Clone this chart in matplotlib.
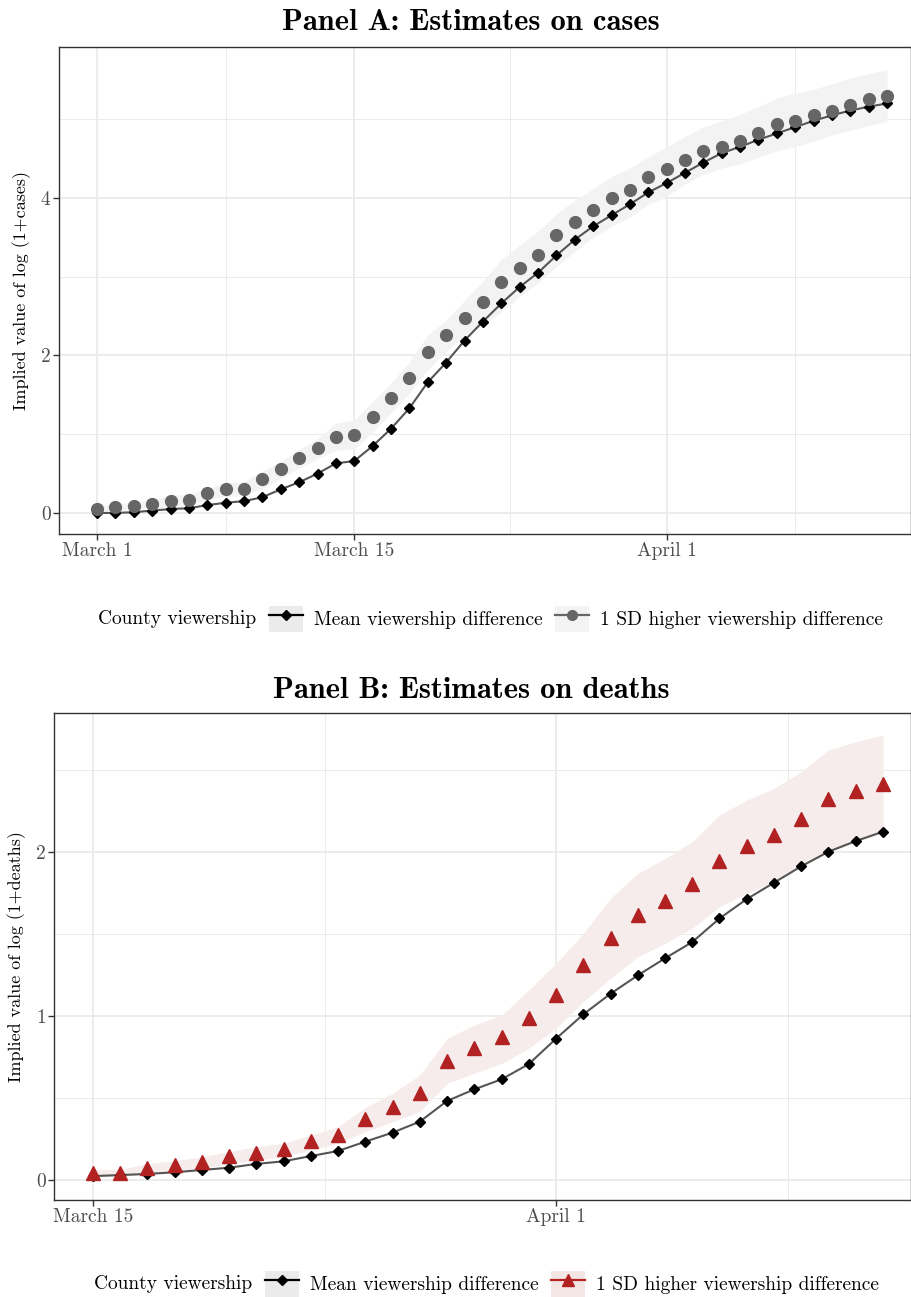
import numpy as np
import pandas as pd
import matplotlib
matplotlib.use("Agg")
import matplotlib.pyplot as plt
from matplotlib.lines import Line2D
from matplotlib.patches import Patch

plt.rcParams['font.family'] = ['cmr10', 'DejaVu Serif']
plt.rcParams['axes.formatter.use_mathtext'] = True

#### Panel A: cases, March 1 - April 12
dates_a = pd.date_range("2020-03-01", periods=44, freq="D")
mean_a = [0.00, 0.00, 0.01, 0.03, 0.05, 0.06, 0.10, 0.13, 0.15, 0.20,
          0.30, 0.39, 0.50, 0.63, 0.66, 0.85, 1.07, 1.33, 1.66, 1.91,
          2.19, 2.43, 2.66, 2.87, 3.05, 3.27, 3.47, 3.64, 3.78, 3.92,
          4.07, 4.19, 4.32, 4.45, 4.57, 4.65, 4.74, 4.82, 4.90, 4.98,
          5.05, 5.11, 5.16, 5.20]
sd_a = [0.05, 0.07, 0.09, 0.12, 0.15, 0.17, 0.25, 0.30, 0.31, 0.43,
        0.56, 0.70, 0.83, 0.97, 0.99, 1.22, 1.46, 1.72, 2.04, 2.26,
        2.48, 2.68, 2.93, 3.11, 3.28, 3.53, 3.70, 3.85, 4.00, 4.10,
        4.26, 4.37, 4.48, 4.60, 4.65, 4.72, 4.83, 4.94, 4.98, 5.05,
        5.11, 5.18, 5.26, 5.30]
sd_a_lo = [0.00, 0.02, 0.05, 0.07, 0.08, 0.10, 0.17, 0.21, 0.22, 0.31,
           0.44, 0.57, 0.69, 0.80, 0.81, 1.03, 1.27, 1.52, 1.82, 2.05,
           2.26, 2.38, 2.55, 2.75, 2.92, 3.13, 3.32, 3.50, 3.64, 3.76,
           3.92, 4.02, 4.18, 4.30, 4.38, 4.43, 4.52, 4.60, 4.65, 4.72,
           4.80, 4.86, 4.92, 4.97]
sd_a_hi = [0.09, 0.11, 0.14, 0.17, 0.22, 0.24, 0.31, 0.38, 0.40, 0.53,
           0.66, 0.80, 0.95, 1.14, 1.18, 1.41, 1.65, 1.92, 2.26, 2.45,
           2.70, 2.94, 3.22, 3.40, 3.58, 3.80, 3.97, 4.12, 4.27, 4.38,
           4.52, 4.65, 4.78, 4.90, 4.98, 5.06, 5.16, 5.27, 5.33, 5.38,
           5.45, 5.52, 5.58, 5.63]

#### Panel B: deaths, March 15 - April 13
dates_b = pd.date_range("2020-03-15", periods=30, freq="D")
mean_b = [0.024, 0.030, 0.037, 0.047, 0.061, 0.075, 0.098, 0.114, 0.146, 0.177,
          0.234, 0.289, 0.356, 0.482, 0.553, 0.614, 0.707, 0.862, 1.010, 1.136,
          1.248, 1.352, 1.451, 1.595, 1.713, 1.813, 1.913, 2.002, 2.067, 2.124]
sd_b = [0.041, 0.045, 0.075, 0.091, 0.108, 0.144, 0.167, 0.187, 0.236, 0.274,
        0.374, 0.443, 0.532, 0.728, 0.807, 0.870, 0.990, 1.130, 1.311, 1.478,
        1.616, 1.703, 1.803, 1.945, 2.037, 2.104, 2.199, 2.321, 2.374, 2.415]
sd_b_lo = [0.016, 0.020, 0.041, 0.051, 0.071, 0.098, 0.122, 0.142, 0.183, 0.224,
           0.295, 0.356, 0.417, 0.590, 0.650, 0.711, 0.803, 0.925, 1.087, 1.230,
           1.362, 1.443, 1.535, 1.667, 1.748, 1.819, 1.910, 2.000, 2.060, 2.120]
sd_b_hi = [0.065, 0.065, 0.100, 0.118, 0.142, 0.173, 0.203, 0.224, 0.274, 0.325,
           0.443, 0.528, 0.640, 0.864, 0.945, 1.006, 1.159, 1.321, 1.504, 1.718,
           1.870, 1.961, 2.063, 2.226, 2.317, 2.388, 2.490, 2.622, 2.673, 2.713]

legend_title = "County viewership"
labels = ["Mean viewership difference", "1 SD higher viewership difference"]

grey_pt = "#666666"
red_pt = "#B22222"
fs = 14

fig = plt.figure(figsize=(9.12, 12.97), dpi=100)


def style_axes(ax, major_x, major_lab, minor_x, major_y, minor_y):
    ax.set_xticks(major_x)
    ax.set_xticklabels(major_lab)
    ax.set_xticks(minor_x, minor=True)
    ax.set_yticks(major_y)
    ax.set_yticklabels([f"{v:g}" for v in major_y])
    ax.set_yticks(minor_y, minor=True)
    ax.grid(True, which="major", color="#EBEBEB", lw=1.3, zorder=0)
    ax.grid(True, which="minor", color="#EBEBEB", lw=0.7, zorder=0)
    ax.set_axisbelow(True)
    ax.tick_params(which="major", length=4, width=1, color="#333333",
                   labelcolor="#4D4D4D", labelsize=fs, pad=2)
    ax.tick_params(which="minor", length=0)
    for s in ax.spines.values():
        s.set_color("#333333")
        s.set_linewidth(1.0)


def add_legend(y, x_title, x_leg, sd_handle, sd_fill):
    fig.text(x_title / 912, y, legend_title, fontsize=fs, va="center", ha="left")
    h_mean = (Patch(facecolor="#EBEBEB", edgecolor="none"),
              Line2D([], [], color="black", lw=1.6, marker="D", markersize=5))
    h_sd = (Patch(facecolor=sd_fill, edgecolor="none"), sd_handle)
    fig.legend([h_mean, h_sd], labels, loc="center left",
               bbox_to_anchor=(x_leg / 912, y), ncol=2, frameon=False,
               fontsize=fs, handlelength=1.75, handleheight=1.75,
               handletextpad=0.57, columnspacing=0.65, borderpad=0,
               borderaxespad=0)


### Panel A
ax1 = fig.add_axes([59 / 912, 1 - 534 / 1297, 852 / 912, 487 / 1297])
ax1.fill_between(dates_a, sd_a_lo, sd_a_hi, color="#F3F3F3", lw=0, zorder=1)
ax1.plot(dates_a, mean_a, color="#555555", lw=1.5, zorder=2)
ax1.plot(dates_a, mean_a, ls="none", marker="D", markersize=5.5, color="black", zorder=3)
ax1.plot(dates_a, sd_a, ls="none", marker="o", markersize=8.5, color=grey_pt, zorder=3)
ax1.set_xlim(pd.Timestamp("2020-03-01") - pd.Timedelta(days=2.07),
             pd.Timestamp("2020-03-01") + pd.Timedelta(days=44.3))
ax1.set_ylim(-0.267, 5.917)
style_axes(ax1,
           pd.to_datetime(["2020-03-01 00:00", "2020-03-15 00:00", "2020-04-01 00:00"]),
           ["March 1", "March 15", "April 1"],
           pd.to_datetime(["2020-03-08 00:00", "2020-03-23 12:00", "2020-04-08 00:00"]),
           [0, 2, 4], [1, 3, 5])
ax1.set_ylabel("Implied value of log (1+cases)", fontsize=13, labelpad=7)
fig.text(471 / 912, 1 - 23 / 1297, "Panel A: Estimates on cases",
         family="cmb10", fontsize=22, ha="center", va="center")
add_legend(1 - 619 / 1297, 98, 269,
           Line2D([], [], color=grey_pt, lw=1.6, marker="o", markersize=7),
           "#F3F3F3")

### Panel B
ax2 = fig.add_axes([54 / 912, 1 - 1200 / 1297, 857 / 912, 487 / 1297])
ax2.fill_between(dates_b, sd_b_lo, sd_b_hi, color="#F7ECEC", lw=0, zorder=1)
ax2.plot(dates_b, mean_b, color="#555555", lw=1.5, zorder=2)
ax2.plot(dates_b, mean_b, ls="none", marker="D", markersize=5.5, color="black", zorder=3)
ax2.plot(dates_b, sd_b, ls="none", marker="^", markersize=9.5, color=red_pt, zorder=3)
ax2.set_xlim(pd.Timestamp("2020-03-15") - pd.Timedelta(days=1.43),
             pd.Timestamp("2020-03-15") + pd.Timedelta(days=30.03))
ax2.set_ylim(-0.122, 2.848)
style_axes(ax2,
           pd.to_datetime(["2020-03-15 00:00", "2020-04-01 00:00"]),
           ["March 15", "April 1"],
           pd.to_datetime(["2020-03-23 12:00", "2020-04-09 12:00"]),
           [0, 1, 2], [0.5, 1.5, 2.5])
ax2.set_ylabel("Implied value of log (1+deaths)", fontsize=13, labelpad=7)
fig.text(471 / 912, 1 - 691 / 1297, "Panel B: Estimates on deaths",
         family="cmb10", fontsize=22, ha="center", va="center")
add_legend(1 - 1284 / 1297, 94, 265,
           Line2D([], [], color=red_pt, lw=1.6, marker="^", markersize=8),
           "#F5E6E6")

fig.savefig("out.png", dpi=100)
